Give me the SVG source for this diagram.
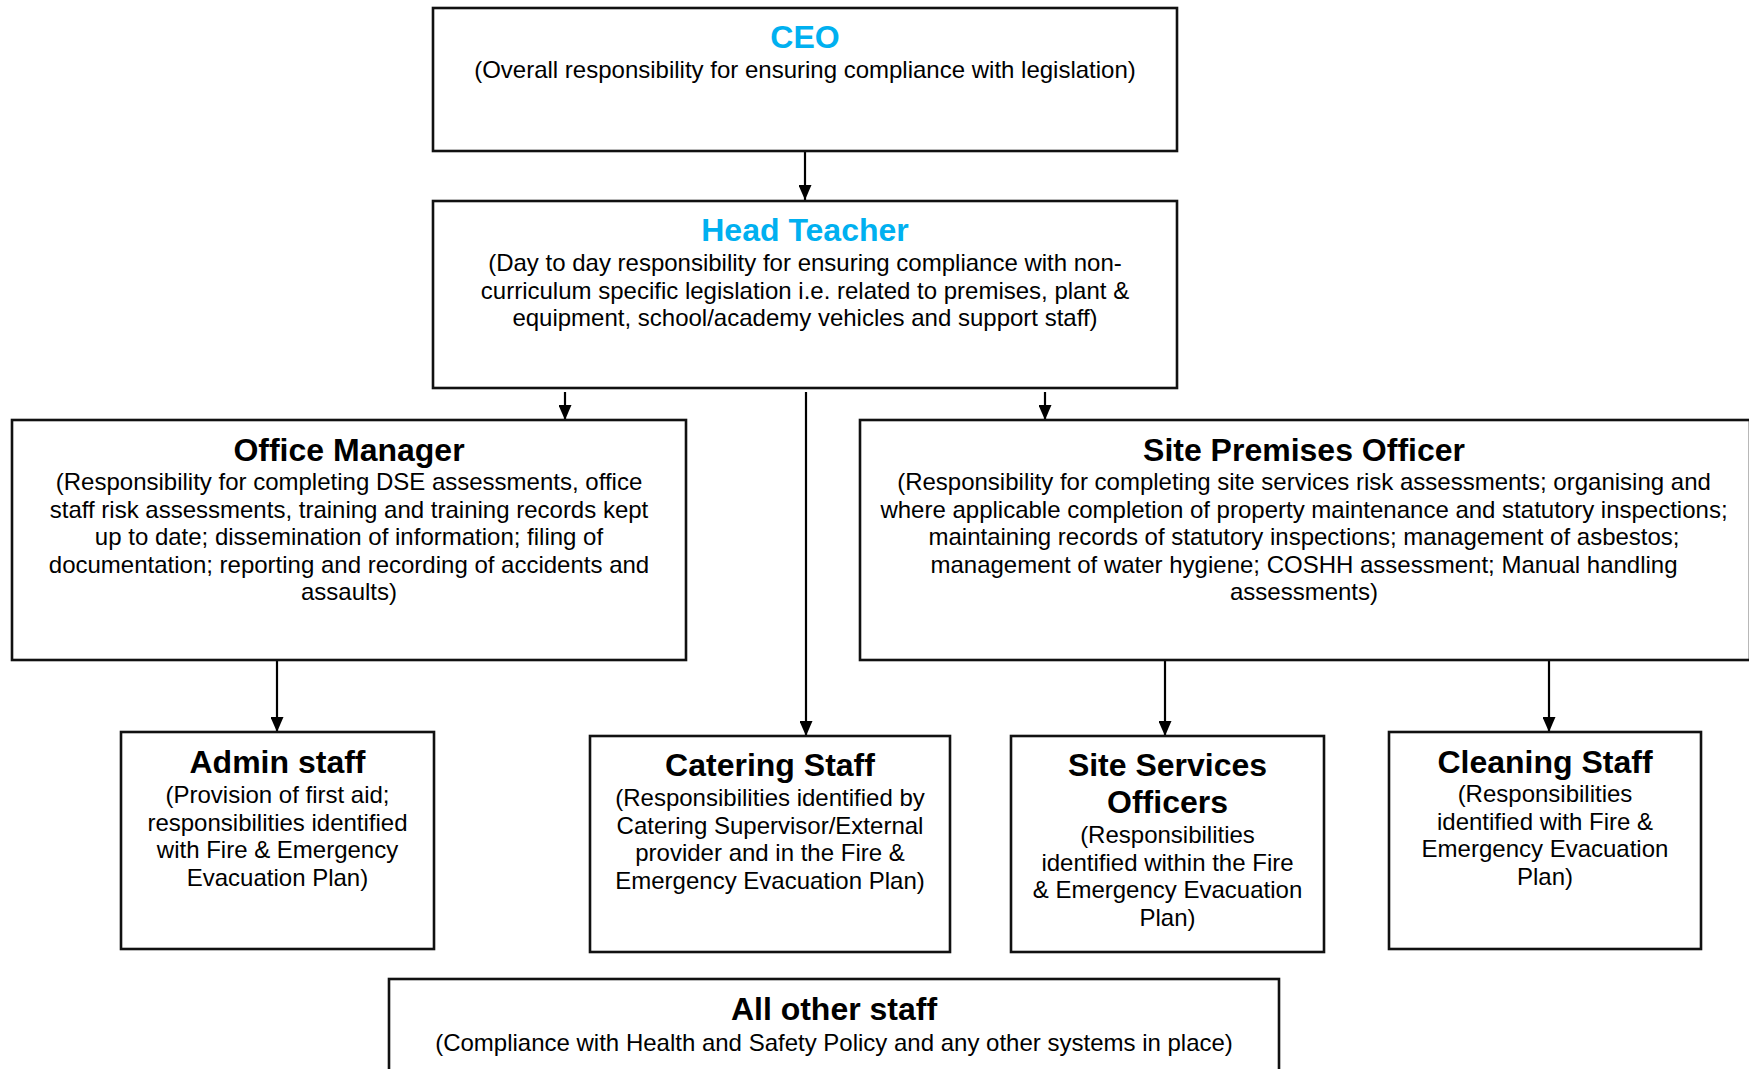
<svg xmlns="http://www.w3.org/2000/svg" width="1749" height="1069" viewBox="0 0 1749 1069">
<defs>
<style>
.box{fill:#fff;stroke:#111;stroke-width:2.6}
.t{font-family:"Liberation Sans",Arial,sans-serif;font-weight:bold;font-size:32px;fill:#000;text-anchor:middle}
.tb{font-family:"Liberation Sans",Arial,sans-serif;font-weight:bold;font-size:32px;fill:#00B0F0;text-anchor:middle}
.b{font-family:"Liberation Sans",Arial,sans-serif;font-size:24px;fill:#000;text-anchor:middle}
.c{stroke:#000;stroke-width:2.2;fill:none}
</style>
<marker id="ah" viewBox="0 0 15 13" refX="15" refY="6.5" markerWidth="15" markerHeight="13" markerUnits="userSpaceOnUse" orient="auto">
<path d="M0,0 L15,6.5 L0,13 z" fill="#000"/>
</marker>
</defs>
<rect width="1749" height="1069" fill="#fff"/>

<g id="connectors">
<line class="c" x1="805" y1="152" x2="805" y2="200" marker-end="url(#ah)"/>
<line class="c" x1="565" y1="392" x2="565" y2="420" marker-end="url(#ah)"/>
<line class="c" x1="1045" y1="392" x2="1045" y2="420" marker-end="url(#ah)"/>
<line class="c" x1="806" y1="392" x2="806" y2="736" marker-end="url(#ah)"/>
<line class="c" x1="277" y1="661" x2="277" y2="732" marker-end="url(#ah)"/>
<line class="c" x1="1165" y1="661" x2="1165" y2="736" marker-end="url(#ah)"/>
<line class="c" x1="1549" y1="661" x2="1549" y2="732" marker-end="url(#ah)"/>
</g>

<g id="ceo">
<rect class="box" x="433" y="8" width="744" height="143"/>
<text class="tb" x="805" y="48">CEO</text>
<text class="b" x="805" y="78">(Overall responsibility for ensuring compliance with legislation)</text>
</g>

<g id="head-teacher">
<rect class="box" x="433" y="201" width="744" height="187"/>
<text class="tb" x="805" y="241">Head Teacher</text>
<text class="b" x="805" y="271">(Day to day responsibility for ensuring compliance with non-</text>
<text class="b" x="805" y="298.5">curriculum specific legislation i.e. related to premises, plant &amp;</text>
<text class="b" x="805" y="326">equipment, school/academy vehicles and support staff)</text>
</g>

<g id="office-manager">
<rect class="box" x="12" y="420" width="674" height="240"/>
<text class="t" x="349" y="461">Office Manager</text>
<text class="b" x="349" y="490">(Responsibility for completing DSE assessments, office</text>
<text class="b" x="349" y="517.5">staff risk assessments, training and training records kept</text>
<text class="b" x="349" y="545">up to date; dissemination of information; filing of</text>
<text class="b" x="349" y="572.5">documentation; reporting and recording of accidents and</text>
<text class="b" x="349" y="600">assaults)</text>
</g>

<g id="site-premises-officer">
<rect class="box" x="860" y="420" width="890" height="240"/>
<text class="t" x="1304" y="461">Site Premises Officer</text>
<text class="b" x="1304" y="490">(Responsibility for completing site services risk assessments; organising and</text>
<text class="b" x="1304" y="517.5">where applicable completion of property maintenance and statutory inspections;</text>
<text class="b" x="1304" y="545">maintaining records of statutory inspections; management of asbestos;</text>
<text class="b" x="1304" y="572.5">management of water hygiene; COSHH assessment; Manual handling</text>
<text class="b" x="1304" y="600">assessments)</text>
</g>

<g id="admin-staff">
<rect class="box" x="121" y="732" width="313" height="217"/>
<text class="t" x="277.5" y="773">Admin staff</text>
<text class="b" x="277.5" y="803">(Provision of first aid;</text>
<text class="b" x="277.5" y="830.5">responsibilities identified</text>
<text class="b" x="277.5" y="858">with Fire &amp; Emergency</text>
<text class="b" x="277.5" y="885.5">Evacuation Plan)</text>
</g>

<g id="catering-staff">
<rect class="box" x="590" y="736" width="360" height="216"/>
<text class="t" x="770" y="776">Catering Staff</text>
<text class="b" x="770" y="806">(Responsibilities identified by</text>
<text class="b" x="770" y="833.5">Catering Supervisor/External</text>
<text class="b" x="770" y="861">provider and in the Fire &amp;</text>
<text class="b" x="770" y="888.5">Emergency Evacuation Plan)</text>
</g>

<g id="site-services-officers">
<rect class="box" x="1011" y="736" width="313" height="216"/>
<text class="t" x="1167.5" y="776">Site Services</text>
<text class="t" x="1167.5" y="813">Officers</text>
<text class="b" x="1167.5" y="843">(Responsibilities</text>
<text class="b" x="1167.5" y="870.5">identified within the Fire</text>
<text class="b" x="1167.5" y="898">&amp; Emergency Evacuation</text>
<text class="b" x="1167.5" y="925.5">Plan)</text>
</g>

<g id="cleaning-staff">
<rect class="box" x="1389" y="732" width="312" height="217"/>
<text class="t" x="1545" y="773">Cleaning Staff</text>
<text class="b" x="1545" y="802">(Responsibilities</text>
<text class="b" x="1545" y="829.5">identified with Fire &amp;</text>
<text class="b" x="1545" y="857">Emergency Evacuation</text>
<text class="b" x="1545" y="884.5">Plan)</text>
</g>

<g id="all-other-staff">
<rect class="box" x="389" y="979" width="890" height="100"/>
<text class="t" x="834" y="1020">All other staff</text>
<text class="b" x="834" y="1051">(Compliance with Health and Safety Policy and any other systems in place)</text>
</g>
</svg>
